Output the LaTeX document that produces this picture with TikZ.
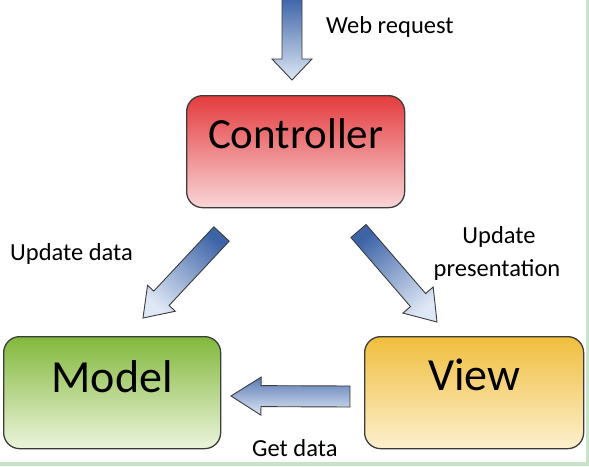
\documentclass[tikz,border=0pt]{standalone}
\usepackage{fontspec}
\setmainfont{Carlito}
\usetikzlibrary{calc}
\definecolor{arrdark}{RGB}{62,100,168}
\definecolor{arrlight}{RGB}{222,231,245}
\definecolor{edgegray}{RGB}{60,60,60}
\definecolor{ctop}{RGB}{228,60,62}
\definecolor{cbot}{RGB}{249,214,216}
\definecolor{mtop}{RGB}{130,184,60}
\definecolor{mbot}{RGB}{236,244,220}
\definecolor{vtop}{RGB}{240,190,60}
\definecolor{vbot}{RGB}{253,240,208}
\definecolor{framegreen}{RGB}{200,228,200}
\tikzset{
  mvcbox/.style={draw=edgegray, line width=1.3pt, rounded corners=16pt, inner sep=0pt, anchor=north west},
  boxtext/.style={anchor=base, font=\fontsize{46}{52}\selectfont, inner sep=0pt},
  lbl/.style={font=\fontsize{24.5}{28}\selectfont, inner sep=0pt},
  blockarr/.style={draw=edgegray, line width=0.9pt, line join=miter, top color=arrdark, bottom color=arrlight},
}
% #1 tail, #2 tip, #3 shaft half width, #4 head half width, #5 head length, #6 options
\newcommand{\blockarrow}[6]{%
  \coordinate (hb) at ($(#2)!#5!(#1)$);
  \path[blockarr,#6] ($(#1)!#3!90:(#2)$) -- ($(hb)!#3!-90:(#1)$) -- ($(hb)!#4!-90:(#1)$) -- (#2)
     -- ($(hb)!#4!90:(#1)$) -- ($(hb)!#3!90:(#1)$) -- ($(#1)!#3!-90:(#2)$) -- cycle;
}
\begin{document}
\begin{tikzpicture}[x=1pt,y=-1pt]
\useasboundingbox (0,0) rectangle (589,466);
\fill[white] (0,0) rectangle (589,466);
\fill[framegreen] (0,462) rectangle (589,466);
\fill[framegreen] (586,0) rectangle (588.5,466);

% boxes
\node[mvcbox, minimum width=218pt, minimum height=112pt, top color=ctop, bottom color=cbot] (c) at (186,95) {};
\node[mvcbox, minimum width=217pt, minimum height=112pt, top color=mtop, bottom color=mbot] (m) at (3,336) {};
\node[mvcbox, minimum width=219pt, minimum height=112pt, top color=vtop, bottom color=vbot] (v) at (364,336) {};

\node[boxtext, font=\fontsize{43}{50}\selectfont] (ct) at ([yshift=3pt]c.center) {Controller};
\node[boxtext] (mt) at ([yshift=0pt]m.center) {Model};
\node[boxtext] (vt) at ([yshift=2pt]v.center) {View};

% arrow end points
\coordinate (wtail) at (292,-2);
\coordinate (wtip) at (292,80);
\coordinate (utail) at (221.5,234);
\coordinate (utip) at (143,318);
\coordinate (ptail) at (358.5,231);
\coordinate (ptip) at (437,322);
\coordinate (gtail) at (350,396.5);
\coordinate (gtip) at (231,396);

\blockarrow{wtail}{wtip}{10pt}{20pt}{21pt}{}
\blockarrow{utail}{utip}{10.5pt}{19pt}{27pt}{shading angle=-40}
\blockarrow{ptail}{ptip}{10pt}{20pt}{29pt}{shading angle=40}
\blockarrow{gtail}{gtip}{10.5pt}{19pt}{30pt}{top color=arrdark!85, bottom color=arrlight}

% labels
\node[lbl, anchor=base west] (lw) at (326,33) {Web request};
\node[lbl, anchor=base west] (lu) at (10,260) {Update data};
\node[lbl, anchor=base] (lp1) at (499,243) {Update};
\node[lbl, anchor=base] (lp2) at (497,276) {presentation};
\node[lbl, anchor=base west] (lg) at (252,456) {Get data};
\end{tikzpicture}
\end{document}
